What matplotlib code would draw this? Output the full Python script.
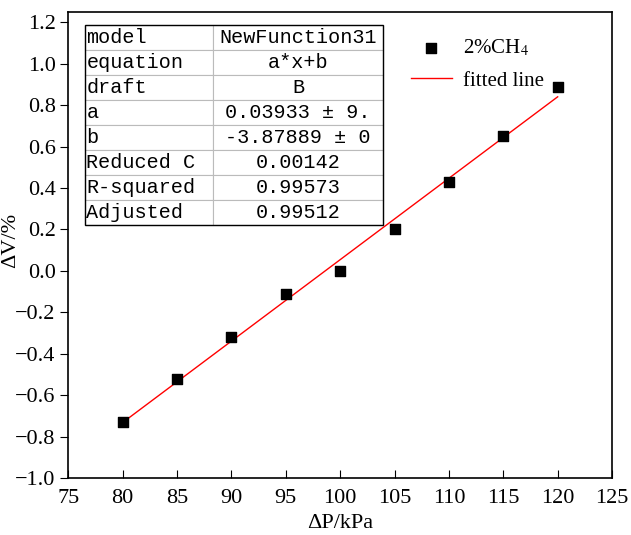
import matplotlib.pyplot as plt
import numpy as np

# data
dp = [80, 85, 90, 95, 100, 105, 110, 115, 120]
dv = [-0.73, -0.52, -0.32, -0.11, 0.00, 0.20, 0.43, 0.65, 0.89]

# fit parameters from the report table
fit_a = 0.03933
fit_b = -3.87889

table_keys = ['model', 'equation', 'draft', 'a', 'b', 'Reduced C', 'R-squared', 'Adjusted']
table_vals = ['NewFunction31', 'a*x+b', 'B', '0.03933 ± 9.', '-3.87889 ± 0',
              '0.00142', '0.99573', '0.99512']

plt.rcParams['font.family'] = ['Liberation Serif', 'DejaVu Serif']
plt.rcParams['mathtext.fontset'] = 'stix'

fig = plt.figure(figsize=(6.31, 5.35), dpi=100)
ax = fig.add_axes([0.108, 0.1065, 0.862, 0.871])

ax.scatter(dp, dv, marker='s', s=50, color='black', label='2%CH$_4$', zorder=3)
xf = np.array([dp[0], dp[-1]])
ax.plot(xf, fit_a * xf + fit_b, color='red', lw=1, label='fitted line')

ax.set_xlim(75, 125)
ax.set_ylim(-1.0, 1.25)
ax.set_xticks(np.arange(75, 126, 5))
yt = np.round(np.arange(-1.0, 1.21, 0.2), 1)
ax.set_yticks(yt)
ax.set_yticklabels([f'{v:.1f}'.replace('-', '−') if v != 0 else '0.0' for v in yt])
ax.tick_params(axis='x', direction='in', length=6, labelsize=16, pad=8)
ax.tick_params(axis='y', direction='out', length=6, labelsize=16, pad=3)
for s in ax.spines.values():
    s.set_linewidth(1.2)

ax.set_xlabel('ΔP/kPa', fontsize=16, labelpad=4)
ax.set_ylabel('ΔV/%', fontsize=16)
ax.yaxis.set_label_coords(-0.088, 0.51)

leg = ax.legend(loc='upper left', bbox_to_anchor=(0.595, 0.985), frameon=False,
                fontsize=15, handlelength=2.0, handletextpad=0.5,
                labelspacing=0.6, scatterpoints=1)

# fit report table
tbl = ax.table(cellText=[[k, v] for k, v in zip(table_keys, table_vals)],
               bbox=[0.031, 0.543, 0.548, 0.429], colWidths=[0.43, 0.57])
tbl.auto_set_font_size(False)
tbl.set_fontsize(14.5)
for (r, c), cell in tbl.get_celld().items():
    cell.set_edgecolor('#bbbbbb')
    cell.set_linewidth(0.8)
    cell.get_text().set_fontfamily(['Liberation Mono', 'DejaVu Sans Mono'])
    if c == 0:
        cell.get_text().set_ha('left')
        cell.PAD = 0.01
    else:
        cell.get_text().set_ha('center')
ax.add_patch(plt.Rectangle((0.031, 0.543), 0.548, 0.429, transform=ax.transAxes,
                           fill=False, edgecolor='black', lw=1, zorder=5))

fig.savefig('out.png', dpi=100)
